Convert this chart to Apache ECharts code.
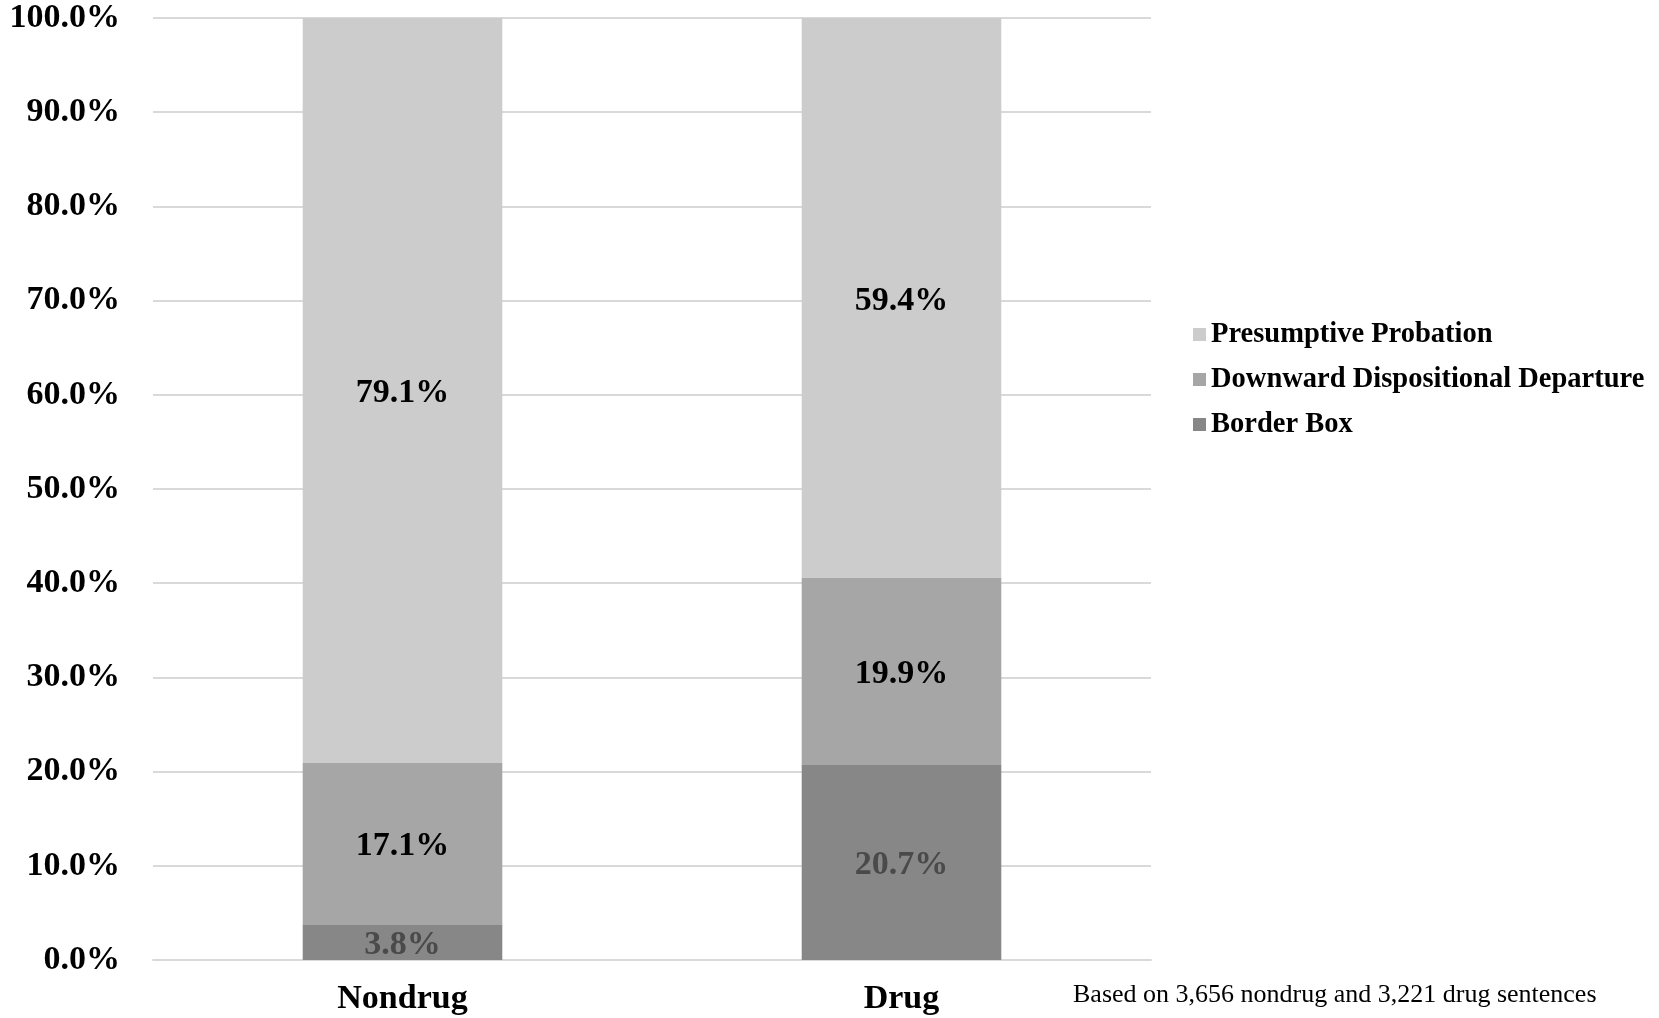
<!DOCTYPE html>
<html><head><meta charset="utf-8">
<script src="https://cdn.jsdelivr.net/npm/echarts@6/dist/echarts.min.js"></script>
<style>html,body{margin:0;padding:0;background:#fff}#c{width:1659px;height:1018px}</style>
</head><body><div id="c"></div>
<script>
const categories = ['Nondrug', 'Drug'];
const borderBox = [3.8, 20.7];
const downward = [17.1, 19.9];
const presumptive = [79.1, 59.4];
const seriesNames = ['Presumptive Probation', 'Downward Dispositional Departure', 'Border Box'];
const yTicks = [0, 10, 20, 30, 40, 50, 60, 70, 80, 90, 100];
const footnote = 'Based on 3,656 nondrug and 3,221 drug sentences';

const FONT = '"Liberation Serif", "Times New Roman", serif';
const chart = echarts.init(document.getElementById('c'));
function lbl(color) {
  return {show: true, position: 'inside', offset: [0, 3], fontFamily: FONT, fontWeight: 'bold', fontSize: 34, color: color,
    formatter: p => p.value.toFixed(1) + '%'};
}
chart.setOption({
  animation: false,
  grid: {left: 153, right: 508, top: 18, bottom: 58},
  legend: {
    orient: 'vertical', left: 1188, top: 315, itemGap: 16, itemWidth: 13, itemHeight: 13,
    icon: 'rect',
    data: seriesNames,
    textStyle: {fontFamily: FONT, fontWeight: 'bold', fontSize: 28.5, color: '#000'}
  },
  xAxis: {
    type: 'category', data: categories,
    axisLine: {show: true, lineStyle: {color: '#d9d9d9', width: 2}},
    axisTick: {show: false},
    axisLabel: {fontFamily: FONT, fontWeight: 'bold', fontSize: 34, color: '#000', margin: 22}
  },
  yAxis: {
    type: 'value', min: 0, max: 100, interval: 10,
    axisLine: {show: false}, axisTick: {show: false},
    splitLine: {lineStyle: {color: '#d9d9d9', width: 2}},
    axisLabel: {fontFamily: FONT, fontWeight: 'bold', fontSize: 34, color: '#000', margin: 33,
      formatter: v => yTicks.includes(v) ? v.toFixed(1) + '%' : ''}
  },
  graphic: [{
    type: 'text', left: 1073, top: 982,
    style: {text: footnote, fontFamily: FONT, fontSize: 26, fill: '#000'}
  }],
  series: [
    {name: 'Border Box', type: 'bar', stack: 's', data: borderBox, barWidth: '40%',
     itemStyle: {color: '#878787'}, label: lbl('#4a4a4a')},
    {name: 'Downward Dispositional Departure', type: 'bar', stack: 's', data: downward,
     itemStyle: {color: '#a6a6a6'}, label: lbl('#000')},
    {name: 'Presumptive Probation', type: 'bar', stack: 's', data: presumptive,
     itemStyle: {color: '#cccccc'}, label: lbl('#000')}
  ]
});
</script></body></html>
